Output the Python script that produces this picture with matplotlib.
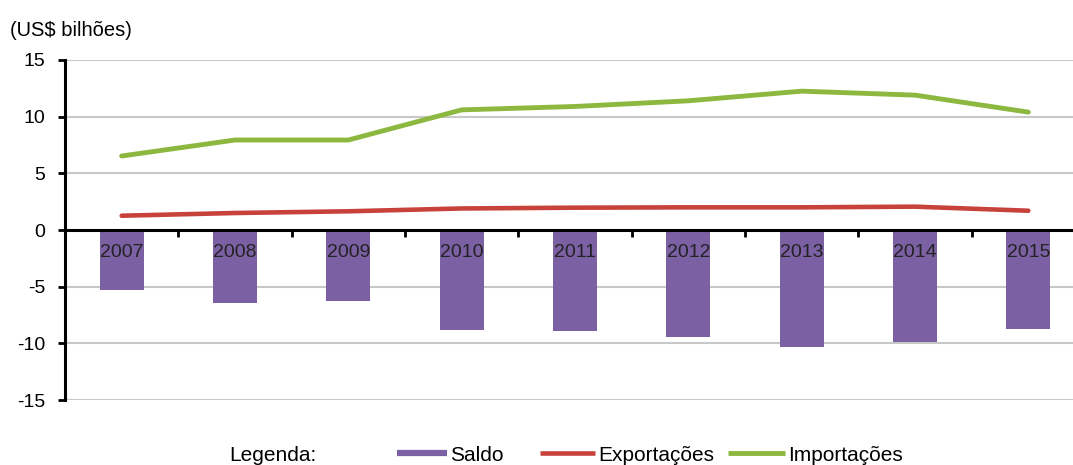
import numpy as np
import matplotlib.pyplot as plt
from matplotlib.lines import Line2D

plt.rcParams['font.family'] = ['Liberation Sans', 'DejaVu Sans']

years = ["2007", "2008", "2009", "2010", "2011", "2012", "2013", "2014", "2015"]
saldo = [-5.3, -6.4, -6.3, -8.8, -8.9, -9.4, -10.3, -9.9, -8.7]
exportacoes = [1.26, 1.5, 1.65, 1.9, 1.97, 2.0, 2.0, 2.06, 1.7]
importacoes = [6.53, 7.94, 7.94, 10.6, 10.9, 11.4, 12.25, 11.9, 10.4]

c_saldo = "#7B61A4"
c_exp = "#C8423C"
c_imp = "#8DB840"

fig = plt.figure(figsize=(10.73, 4.65), dpi=100)
ax = fig.add_axes([65 / 1073, 1 - 400 / 465, 1020 / 1073, 340 / 465])

x = np.arange(len(years))
ax.bar(x, saldo, width=0.39, color=c_saldo, zorder=2)
ax.plot(x, exportacoes, color=c_exp, lw=3.3, zorder=3, solid_capstyle="round")
ax.plot(x, importacoes, color=c_imp, lw=3.5, zorder=3, solid_capstyle="round")

for i, yr in enumerate(years):
    ax.text(i, -2.0, yr, ha="center", va="center", fontsize=14, color="#222222", zorder=4)

ax.set_xlim(-0.5, len(years) - 0.5)
ax.set_ylim(-15, 15)
ax.set_yticks([-15, -10, -5, 0, 5, 10, 15])
ax.set_yticklabels(["-15", "-10", "-5", "0", "5", "10", "15"])
for v in [-15, -10, -5, 5, 10, 15]:
    ax.axhline(v, color="#C8C8C8", lw=1.5, zorder=1)

ax.set_xticks(x[:-1] + 0.5)
ax.set_xticklabels([])
ax.spines["bottom"].set_position(("data", 0))
ax.spines["bottom"].set_linewidth(2.2)
ax.spines["bottom"].set_zorder(2.5)
ax.spines["left"].set_linewidth(2.2)
ax.spines["top"].set_visible(False)
ax.spines["right"].set_visible(False)
ax.tick_params(axis="x", direction="out", length=5, width=2)
ax.tick_params(axis="y", direction="out", length=5, width=2, pad=9, labelsize=14)

fig.text(10 / 1073, 1 - 30 / 465, "(US$ bilhões)", fontsize=14.5, va="center", ha="left")

# legend row: one small legend per entry so spacing follows the reference
fig.text(229 / 1073, 1 - 455 / 465, "Legenda:", fontsize=15, va="center", ha="left")
legend_items = [
    ("Saldo", c_saldo, 4.5, 397, 2.4),
    ("Exportações", c_exp, 3.3, 540, 2.65),
    ("Importações", c_imp, 3.5, 728, 2.75),
]
for label, color, lw, x0, hl in legend_items:
    h = Line2D([0], [0], color=color, lw=lw, solid_capstyle="butt")
    fig.legend([h], [label], loc="center left", bbox_to_anchor=(x0 / 1073, 1 - 455 / 465),
               frameon=False, fontsize=15, handlelength=hl, handletextpad=0.15,
               borderpad=0, borderaxespad=0)

fig.savefig("out.png", dpi=100)
